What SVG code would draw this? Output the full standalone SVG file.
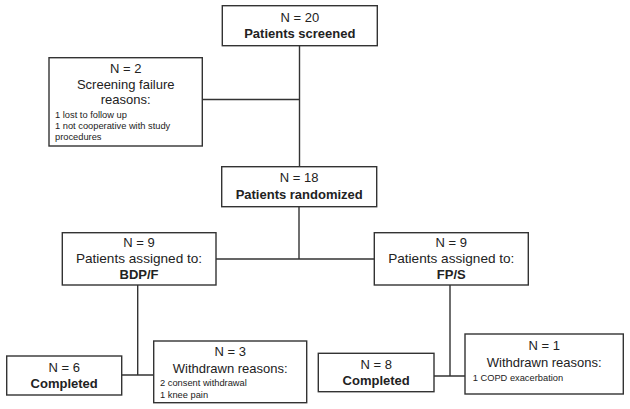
<svg xmlns="http://www.w3.org/2000/svg" width="630" height="409" viewBox="0 0 630 409">
<style>
.box{fill:#fff;stroke:#333;stroke-width:1.4}
.ln{fill:none;stroke:#333;stroke-width:1.4}
text{font-family:"Liberation Sans",Arial,sans-serif;fill:#222}
.t{font-size:13px;text-anchor:middle}
.b{font-size:13px;font-weight:bold;text-anchor:middle}
.s{font-size:9.3px}
</style>
<rect width="630" height="409" fill="#fff"/>
<g id="connectors">
<path class="ln" d="M299.5 46V166.5"/>
<path class="ln" d="M202.5 99.5H299.5"/>
<path class="ln" d="M299 206.5V259H216M299 259H374.5"/>
<path class="ln" d="M137.7 285V375H121.7M137.7 375H153.7"/>
<path class="ln" d="M450 285V376H434M450 376H465"/>
</g>
<g id="screened">
<rect class="box" x="222.3" y="5.7" width="155" height="40"/>
<text class="t" x="299.8" y="21.7">N = 20</text>
<text class="b" x="299.8" y="37.8">Patients screened</text>
</g>
<g id="screen-fail">
<rect class="box" x="49" y="57.7" width="153.3" height="88.3"/>
<text class="t" x="125.7" y="73.3">N = 2</text>
<text class="t" x="125.7" y="89.3">Screening failure</text>
<text class="t" x="125.7" y="104.3">reasons:</text>
<text class="s" x="55" y="118.3">1 lost to follow up</text>
<text class="s" x="55" y="129.3">1 not cooperative with study</text>
<text class="s" x="55" y="140">procedures</text>
</g>
<g id="randomized">
<rect class="box" x="221.7" y="166.7" width="155" height="40"/>
<text class="t" x="299.2" y="182.3">N = 18</text>
<text class="b" x="299.2" y="198.5">Patients randomized</text>
</g>
<g id="bdpf">
<rect class="box" x="62.3" y="232.7" width="153.7" height="52.3"/>
<text class="t" x="139" y="246.7">N = 9</text>
<text class="t" x="139" y="263" style="font-size:13.6px">Patients assigned to:</text>
<text class="b" x="139" y="279.3">BDP/F</text>
</g>
<g id="fps">
<rect class="box" x="374.3" y="232.7" width="154" height="52.3"/>
<text class="t" x="451.3" y="246.7">N = 9</text>
<text class="t" x="451.3" y="263" style="font-size:13.6px">Patients assigned to:</text>
<text class="b" x="451.3" y="279.3">FP/S</text>
</g>
<g id="completed-left">
<rect class="box" x="6.7" y="356" width="115" height="39"/>
<text class="t" x="64.2" y="371.7">N = 6</text>
<text class="b" x="64.2" y="387.5">Completed</text>
</g>
<g id="withdrawn-left">
<rect class="box" x="153.7" y="341" width="153" height="61.7"/>
<text class="t" x="230.2" y="356">N = 3</text>
<text class="t" x="230.2" y="372.7">Withdrawn reasons:</text>
<text class="s" x="160" y="386">2 consent withdrawal</text>
<text class="s" x="160" y="397.7">1 knee pain</text>
</g>
<g id="completed-right">
<rect class="box" x="318.3" y="353.3" width="115.7" height="38.4"/>
<text class="t" x="376.2" y="369.3">N = 8</text>
<text class="b" x="376.2" y="384.5">Completed</text>
</g>
<g id="withdrawn-right">
<rect class="box" x="465" y="334" width="158.3" height="60"/>
<text class="t" x="544.2" y="350">N = 1</text>
<text class="t" x="544.2" y="366.7">Withdrawn reasons:</text>
<text class="s" x="472.7" y="380.7">1 COPD exacerbation</text>
</g>
</svg>
